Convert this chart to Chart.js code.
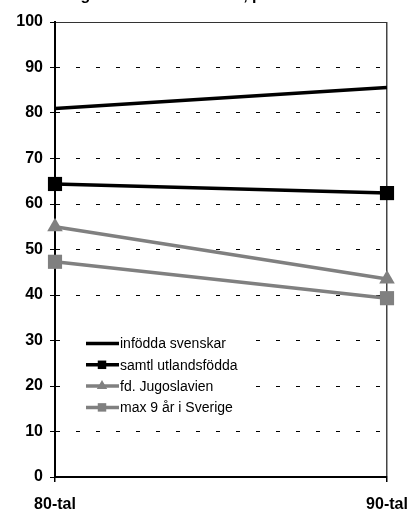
<!DOCTYPE html>
<html lang="sv">
<head>
    <meta charset="UTF-8">
    <title>Valdeltagande</title>
    <script src="https://cdn.jsdelivr.net/npm/chart.js"></script>
    <style>
        body {
            margin: 0;
            background: white;
        }
        #wrap {
            width: 411px;
            height: 511px;
        }
    </style>
</head>
<body>
    <div id="wrap"><canvas id="lineChart" width="411" height="511"></canvas></div>

    <script>
        // values
        const categories = ["80-tal", "90-tal"];
        const seriesNames = ["infödda svenskar", "samtl utlandsfödda", "fd. Jugoslavien", "max 9 år i Sverige"];
        const infodda = [81.0, 85.6];
        const utlandsfodda = [64.4, 62.4];
        const jugoslavien = [55.0, 43.5];
        const max9ar = [47.3, 39.3];
        const yMin = 0, yMax = 100, yStep = 10;

        const titleText = "Valdeltagande i kommunalval, procent";
        const FONT = "'Liberation Sans', Arial, sans-serif";
        const GRAY = "#808080";

        // title sits mostly above the top edge, like the cropped original
        const titlePlugin = {
            id: 'cutTitle',
            afterDraw(chart) {
                const ctx = chart.ctx;
                ctx.save();
                ctx.font = "bold 16px " + FONT;
                ctx.fillStyle = "#000";
                ctx.textBaseline = "alphabetic";
                ctx.fillText(titleText, 20, -0.5);
                ctx.restore();
            }
        };

        // legend drawn inside the plot area, bottom left
        const boxLegend = {
            id: 'boxLegend',
            afterDatasetsDraw(chart) {
                const ctx = chart.ctx;
                ctx.save();
                ctx.fillStyle = "#fff";
                ctx.fillRect(62, 331, 188, 87);
                ctx.font = "14px " + FONT;
                ctx.textBaseline = "middle";
                chart.data.datasets.forEach((ds, i) => {
                    const y = 343.5 + i * 21.3;
                    ctx.strokeStyle = ds.borderColor;
                    ctx.lineWidth = 3.5;
                    ctx.beginPath();
                    ctx.moveTo(86, y);
                    ctx.lineTo(119, y);
                    ctx.stroke();
                    if (ds.pointRadius > 0) {
                        ctx.fillStyle = ds.borderColor;
                        Chart.helpers.drawPoint(ctx, {
                            pointStyle: ds.pointStyle,
                            radius: 6,
                            rotation: 0,
                            borderWidth: 0
                        }, 102, y);
                    }
                    ctx.fillStyle = "#000";
                    ctx.fillText(ds.label, 120, y + 1);
                });
                ctx.restore();
            }
        };

        const ctx = document.getElementById('lineChart').getContext('2d');
        new Chart(ctx, {
            type: 'line',
            data: {
                labels: categories,
                datasets: [
                    {
                        label: seriesNames[0],
                        data: infodda,
                        borderColor: "#000",
                        backgroundColor: "#000",
                        borderWidth: 3.5,
                        pointRadius: 0,
                        pointStyle: 'circle',
                        clip: false
                    },
                    {
                        label: seriesNames[1],
                        data: utlandsfodda,
                        borderColor: "#000",
                        backgroundColor: "#000",
                        borderWidth: 3.5,
                        pointRadius: 10,
                        pointBorderWidth: 0,
                        pointStyle: 'rect',
                        clip: false
                    },
                    {
                        label: seriesNames[2],
                        data: jugoslavien,
                        borderColor: GRAY,
                        backgroundColor: GRAY,
                        borderWidth: 3.5,
                        pointRadius: 9,
                        pointBorderWidth: 0,
                        pointStyle: 'triangle',
                        clip: false
                    },
                    {
                        label: seriesNames[3],
                        data: max9ar,
                        borderColor: GRAY,
                        backgroundColor: GRAY,
                        borderWidth: 3.5,
                        pointRadius: 10,
                        pointBorderWidth: 0,
                        pointStyle: 'rect',
                        clip: false
                    }
                ]
            },
            options: {
                responsive: false,
                animation: false,
                events: [],
                layout: {
                    padding: { top: 22, right: 24, left: 0, bottom: 0 }
                },
                elements: {
                    line: { tension: 0 }
                },
                scales: {
                    x: {
                        offset: false,
                        afterFit(scale) {
                            scale.height = 34;
                            scale.paddingLeft = 0;
                            scale.paddingRight = 0;
                        },
                        grid: {
                            color: (c) => c.index === 0 ? "#000" : "#444",
                            lineWidth: 1.5,
                            tickLength: 5,
                            tickColor: "#000"
                        },
                        border: { color: "#000", width: 2 },
                        ticks: {
                            color: "#000",
                            padding: 13,
                            maxRotation: 0,
                            font: { family: FONT, size: 16, weight: 'bold' }
                        }
                    },
                    y: {
                        min: yMin,
                        max: yMax,
                        afterFit(scale) {
                            scale.width = 55;
                            scale.paddingTop = 0;
                            scale.paddingBottom = 0;
                        },
                        grid: {
                            color: (c) => c.tick && c.tick.value === yMax ? "#333" : "#000",
                            lineWidth: 1,
                            tickLength: 5,
                            tickColor: "#000"
                        },
                        border: {
                            color: "#000",
                            width: 2,
                            dash: (c) => c.tick && c.tick.value === yMax ? [] : [4, 16]
                        },
                        ticks: {
                            stepSize: yStep,
                            color: "#000",
                            padding: 7,
                            font: { family: FONT, size: 16, weight: 'bold' }
                        }
                    }
                },
                plugins: {
                    legend: { display: false },
                    title: { display: false },
                    tooltip: { enabled: false }
                }
            },
            plugins: [boxLegend, titlePlugin]
        });
    </script>
</body>
</html>
